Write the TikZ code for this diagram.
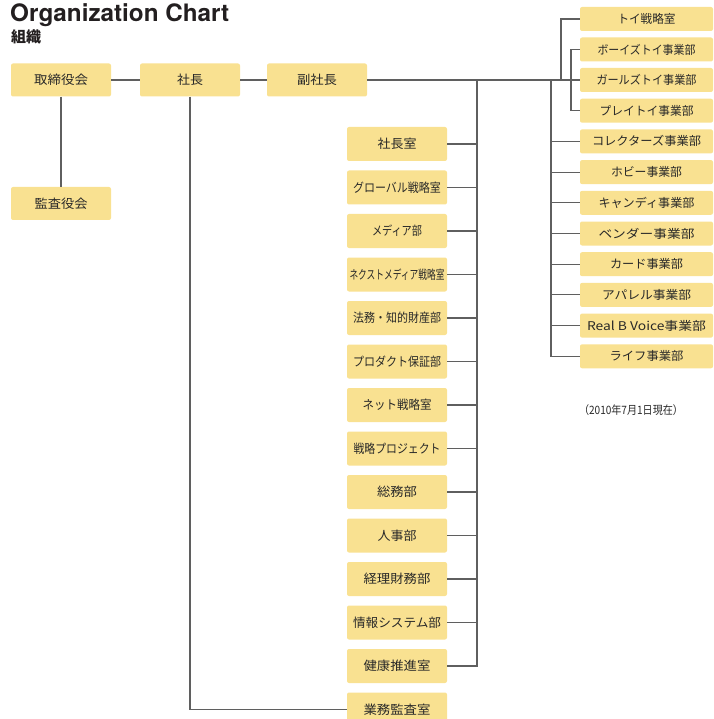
\documentclass[tikz,border=0pt]{standalone}
\usepackage{fontspec}
\usepackage{graphicx}
\setmainfont{TeX Gyre Heros}
\newfontfamily\jp{Noto Sans CJK JP}
\definecolor{boxfill}{RGB}{249,225,145}
\definecolor{txt}{RGB}{40,40,40}
\definecolor{ln}{RGB}{95,95,95}
\definecolor{ttl}{RGB}{35,31,32}
\newcommand{\fw}[2]{\resizebox{#1pt}{\height}{#2}}
\tikzset{
  base/.style={fill=boxfill, rounded corners=2pt, inner sep=0pt, text=txt, font=\jp\fontsize{12.5}{12.5}\selectfont},
  topbox/.style={base, minimum width=100pt, minimum height=33pt},
  midbox/.style={base, minimum width=100pt, minimum height=34pt},
  rbox/.style={base, minimum width=133pt, minimum height=24pt, font=\jp\fontsize{12}{12}\selectfont},
  conn/.style={draw=ln, line width=1.1pt}
}
\begin{document}
\begin{tikzpicture}[x=1pt,y=-1pt]
\useasboundingbox (0,0) rectangle (713,719);
% titles
\node[anchor=base west, inner sep=0pt, text=ttl, font=\bfseries\fontsize{24}{24}\selectfont] (title) at (10,21.5) {\fw{219}{Organization Chart}};
\node[anchor=base west, inner sep=0pt, text=ttl, font=\jp\bfseries\fontsize{15}{15}\selectfont] (subtitle) at (11,43) {組織};
% top row
\node[topbox] (tori) at (61,80) {\fw{54}{取締役会}};
\node[topbox] (shacho) at (190,80) {\fw{26}{社長}};
\node[topbox] (fuku) at (317,80) {\fw{40}{副社長}};
\node[topbox] (kansa) at (61,203.5) {\fw{53}{監査役会}};
% middle column
\node[midbox] (m0) at (397,144) {\fw{39}{社長室}};
\node[midbox] (m1) at (397,187.5) {\fw{88}{グローバル戦略室}};
\node[midbox] (m2) at (397,231) {\fw{50}{メディア部}};
\node[midbox] (m3) at (397,274.5) {\fw{95}{ネクストメディア戦略室}};
\node[midbox] (m4) at (397,318) {\fw{88}{法務・知的財産部}};
\node[midbox] (m5) at (397,361.5) {\fw{88}{プロダクト保証部}};
\node[midbox] (m6) at (397,405) {\fw{69}{ネット戦略室}};
\node[midbox] (m7) at (397,448.5) {\fw{87}{戦略プロジェクト}};
\node[midbox] (m8) at (397,492) {\fw{40}{総務部}};
\node[midbox] (m9) at (397,535.5) {\fw{39}{人事部}};
\node[midbox] (m10) at (397,579) {\fw{67}{経理財務部}};
\node[midbox] (m11) at (397,622.5) {\fw{88}{情報システム部}};
\node[midbox] (m12) at (397,666) {\fw{67}{健康推進室}};
\node[midbox] (audit) at (397,709.5) {\fw{67}{業務監査室}};
% right column
\node[rbox] (toy) at (646.5,19) {\fw{58}{トイ戦略室}};
\node[rbox] (boys) at (646.5,49.5) {\fw{98}{ボーイズトイ事業部}};
\node[rbox] (girls) at (646.5,80) {\fw{100}{ガールズトイ事業部}};
\node[rbox] (play) at (646.5,110.7) {\fw{94}{プレイトイ事業部}};
\node[rbox] (r0) at (646.5,141.4) {\fw{109}{コレクターズ事業部}};
\node[rbox] (r1) at (646.5,172.1) {\fw{71}{ホビー事業部}};
\node[rbox] (r2) at (646.5,202.8) {\fw{96}{キャンディ事業部}};
\node[rbox] (r3) at (646.5,233.5) {\fw{96}{ベンダー事業部}};
\node[rbox] (r4) at (646.5,264.2) {\fw{73}{カード事業部}};
\node[rbox] (r5) at (646.5,294.9) {\fw{89}{アパレル事業部}};
\node[rbox] (r6) at (646.5,325.6) {\fw{119}{Real B Voice事業部}};
\node[rbox] (life) at (646.5,356.3) {\fw{74}{ライフ事業部}};
% date
\node[inner sep=0pt, text=txt, font=\jp\fontsize{11.5}{11.5}\selectfont] (date) at (631,410) {\fw{104}{（2010年7月1日現在）}};
% junctions
\coordinate (mt) at (477,80);
\coordinate (j1) at (561,80);
\coordinate (j2) at (571,80);
\coordinate (j3) at (551,80);
% connectors
\draw[conn] (tori.east) -- (shacho.west);
\draw[conn] (shacho.east) -- (fuku.west);
\draw[conn] (fuku.east) -- (girls.west);
\draw[conn] (tori.south) -- (kansa.north);
\draw[conn] (shacho.south) |- (audit.west);
\draw[conn] (mt) |- (m12.east);
\foreach \i in {0,...,11} {\draw[conn] (m\i.east) -- (m\i.east -| mt);}
\draw[conn] (toy.west) -| (j1);
\draw[conn] (boys.west) -| (j2);
\draw[conn] (play.west) -| (j2);
\draw[conn] (j3) |- (life.west);
\foreach \i in {0,...,6} {\draw[conn] (r\i.west) -- (r\i.west -| j3);}
\end{tikzpicture}
\end{document}
